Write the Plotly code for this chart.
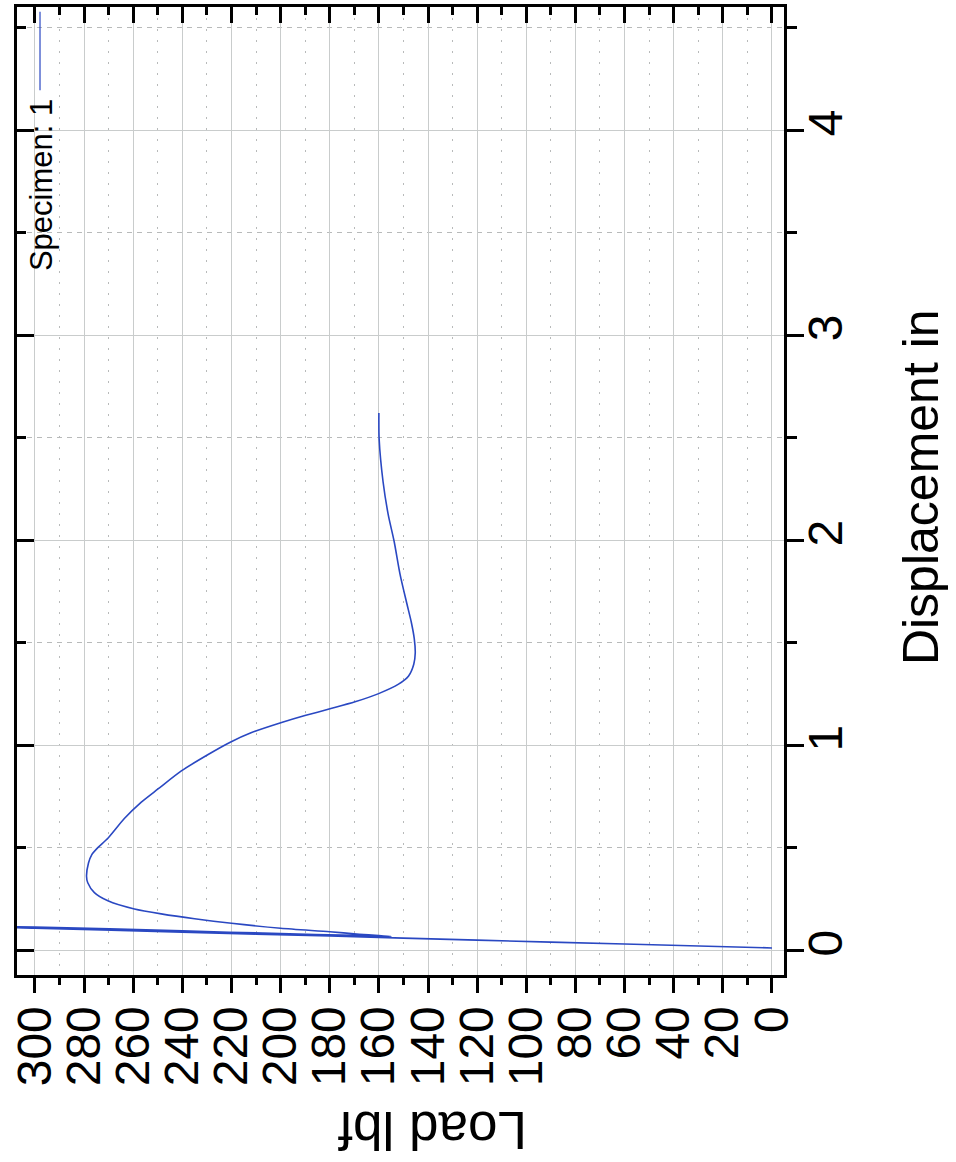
import plotly.graph_objects as go

# Load (lbf) vs displacement (in) for specimen 1, drawn with the load axis
# running along the bottom (reversed) and displacement up the right side.
load_lbf = [
    0, 60, 120, 180, 240, 300, 330,            # initial loading ramp
    300, 240, 200, 170, 155,                    # back along the ramp
    160, 168, 180, 200, 220, 235, 248.6, 259.5, 270.3, 275.8, 278.5, 279.0,
    278.2, 276.9, 274.4, 270.3, 263.6, 256.7, 249.9, 240.4, 229.5, 220.5,
    211.8, 199.6, 190.1, 179.9, 169.7, 160.1, 152.0, 147.9, 145.8, 145.2,
    145.6, 146.8, 148.6, 151.4, 153.8, 156.2, 158.3, 159.9, 160.0,
]
displacement_in = [
    0.012, 0.031, 0.050, 0.070, 0.089, 0.108, 0.118,
    0.114, 0.095, 0.082, 0.073, 0.068,
    0.072, 0.079, 0.091, 0.108, 0.132, 0.154, 0.178, 0.202, 0.242, 0.282, 0.330, 0.362,
    0.426, 0.466, 0.501, 0.547, 0.643, 0.723, 0.787, 0.875, 0.955, 1.015,
    1.062, 1.111, 1.145, 1.178, 1.212, 1.252, 1.298, 1.338, 1.395, 1.450,
    1.520, 1.600, 1.690, 1.835, 1.995, 2.125, 2.285, 2.495, 2.620,
]

load_range = [307.3, -4.9]
disp_range = [-0.12, 4.6]
load_ticks = list(range(0, 301, 20))
disp_ticks = [0, 1, 2, 3, 4]

FONT = "Liberation Sans, Arial, sans-serif"
LINE_BLUE = "#2a48c2"
GRID = "#c9cccc"
MINOR_GRID = "#b8baba"

fig = go.Figure()
fig.add_trace(go.Scatter(
    x=load_lbf, y=displacement_in, mode="lines",
    line=dict(color=LINE_BLUE, width=1.6, shape="spline", smoothing=0.7),
    name="Specimen: 1", showlegend=False, xaxis="x", yaxis="y",
))
# empty trace so the mirrored frame axes (top / left) get drawn
fig.add_trace(go.Scatter(x=[], y=[], xaxis="x2", yaxis="y2",
                         showlegend=False, hoverinfo="skip"))

tick_font = dict(family=FONT, size=48, color="black")

fig.update_layout(
    width=956, height=1162,
    margin=dict(l=17, r=172, t=7, b=187),
    paper_bgcolor="white", plot_bgcolor="white",
    font=dict(family=FONT, color="black"),
    xaxis=dict(
        range=load_range, autorange=False,
        tickmode="array", tickvals=load_ticks,
        ticktext=[str(v) for v in load_ticks],
        tickangle=-90, tickfont=tick_font, ticklabelstandoff=-6,
        ticks="outside", ticklen=15, tickwidth=3, tickcolor="black",
        showline=True, linewidth=3, linecolor="black",
        showgrid=True, gridcolor=GRID, gridwidth=1,
        zeroline=False,
        minor=dict(dtick=10, tick0=0, ticks="outside", ticklen=7,
                   tickwidth=3, tickcolor="black",
                   showgrid=True, gridcolor=MINOR_GRID, gridwidth=1,
                   griddash="2px,9px"),
        anchor="y",
    ),
    yaxis=dict(
        range=disp_range, autorange=False, side="right",
        tickmode="array", tickvals=disp_ticks,
        ticktext=[str(v) for v in disp_ticks],
        tickangle=-90, tickfont=tick_font, ticklabelstandoff=-20,
        ticks="outside", ticklen=17, tickwidth=3, tickcolor="black",
        showline=True, linewidth=3, linecolor="black",
        showgrid=True, gridcolor=GRID, gridwidth=1,
        zeroline=False,
        minor=dict(dtick=0.5, tick0=0, ticks="outside", ticklen=10,
                   tickwidth=3, tickcolor="black",
                   showgrid=True, gridcolor=MINOR_GRID, gridwidth=1,
                   griddash="5px,5px"),
        anchor="x",
    ),
    xaxis2=dict(
        range=load_range, autorange=False, overlaying="x", side="top",
        anchor="y2", showticklabels=False,
        tickmode="array", tickvals=load_ticks,
        ticks="inside", ticklen=16, tickwidth=3, tickcolor="black",
        showline=True, linewidth=3, linecolor="black",
        showgrid=False, zeroline=False,
        minor=dict(dtick=10, tick0=0, ticks="inside", ticklen=8,
                   tickwidth=3, tickcolor="black", showgrid=False),
    ),
    yaxis2=dict(
        range=disp_range, autorange=False, overlaying="y", side="left",
        anchor="x2", showticklabels=False,
        tickmode="array", tickvals=disp_ticks,
        ticks="inside", ticklen=17, tickwidth=3, tickcolor="black",
        showline=True, linewidth=3, linecolor="black",
        showgrid=False, zeroline=False,
        minor=dict(dtick=0.5, tick0=0, ticks="inside", ticklen=9,
                   tickwidth=3, tickcolor="black", showgrid=False),
    ),
)

# axis titles, turned with the rest of the page
fig.add_annotation(text="Displacement in", xref="paper", yref="paper",
                   x=1.1786, y=0.504, showarrow=False, textangle=-90,
                   xanchor="center", yanchor="middle",
                   font=dict(family=FONT, size=50, color="black"))
fig.add_annotation(text="Load lbf", xref="paper", yref="paper",
                   x=0.541, y=-0.160, showarrow=False, textangle=180,
                   xanchor="center", yanchor="middle",
                   font=dict(family=FONT, size=53, color="black"))

# legend entry: label plus line sample
fig.add_annotation(text="Specimen: 1", xref="paper", yref="paper",
                   x=0.0313, y=0.816, showarrow=False, textangle=-90,
                   xanchor="center", yanchor="middle",
                   font=dict(family=FONT, size=31, color="black"))
fig.add_shape(type="line", xref="paper", yref="paper",
              x0=0.030, x1=0.030, y0=0.914, y1=0.995,
              line=dict(color=LINE_BLUE, width=1.2))

fig.write_html("out.html")
